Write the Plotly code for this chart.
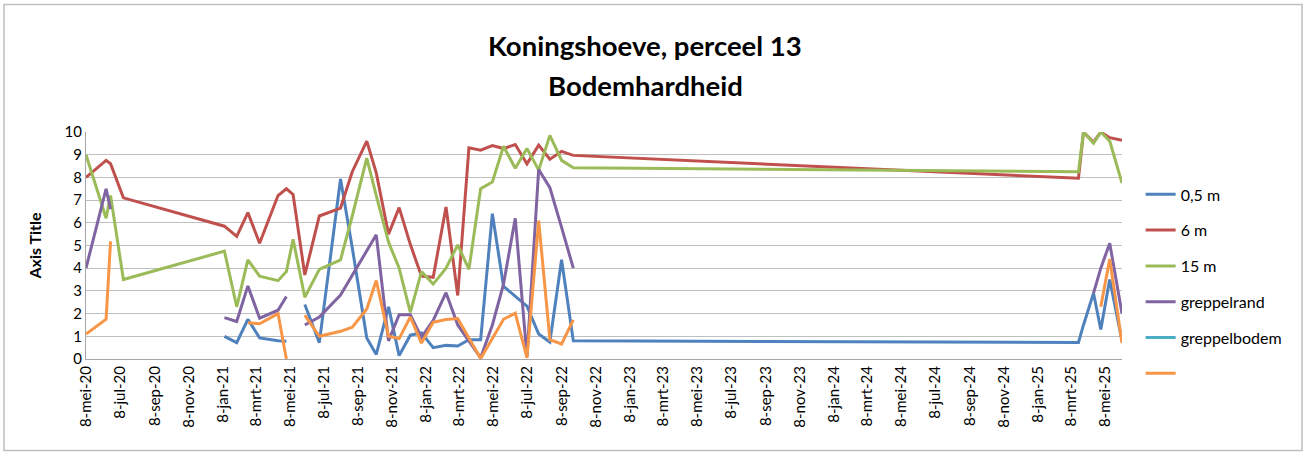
import datetime as dt
import plotly.graph_objects as go

# Measurement dates (shared by all series; None = no measurement)
dates = [
    "2020-05-08", "2020-06-13", "2020-06-21", "2020-07-14",
    "2021-01-11", "2021-02-02", "2021-02-22", "2021-03-15", "2021-04-17",
    "2021-05-02", "2021-05-14", "2021-06-04", "2021-06-30", "2021-08-07",
    "2021-08-28", "2021-09-23", "2021-10-10", "2021-11-01", "2021-11-20",
    "2021-12-10", "2021-12-30", "2022-01-20", "2022-02-12", "2022-03-05",
    "2022-03-25", "2022-04-15", "2022-05-06", "2022-05-26", "2022-06-16",
    "2022-07-07", "2022-07-28", "2022-08-17", "2022-09-07", "2022-09-28",
    "2025-03-21", "2025-03-30", "2025-04-17", "2025-04-30", "2025-05-16",
    "2025-06-07",
]

hardheid_05m = [
    None, None, None, None,
    1.0, 0.72, 1.75, 0.93, 0.8,
    0.78, None, 2.4, 0.72, 7.93,
    4.9, 0.93, 0.2, 2.3, 0.15,
    1.05, 1.15, 0.5, 0.6, 0.57,
    0.85, 0.85, 6.4, 3.2, 2.75,
    2.33, 1.1, 0.75, 4.37, 0.8,
    0.73, 1.5, 2.9, 1.3, 3.5,
    0.8,
]

hardheid_6m = [
    8.0, 8.75, 8.6, 7.1,
    5.85, 5.4, 6.45, 5.1, 7.2,
    7.5, 7.25, 3.7, 6.3, 6.65,
    8.25, 9.6, 8.2, 5.5, 6.67,
    5.05, 3.65, 3.6, 6.7, 2.8,
    9.3, 9.2, 9.4, 9.27, 9.45,
    8.6, 9.42, 8.8, 9.15, 8.97,
    7.96, 10.0, 9.55, 10.0, 9.75,
    9.63,
]

hardheid_15m = [
    9.0, 6.2, 7.2, 3.5,
    4.75, 2.3, 4.37, 3.65, 3.45,
    3.85, 5.27, 2.72, 3.95, 4.37,
    6.3, 8.85, 7.2, 5.15, 4.0,
    2.05, 3.85, 3.3, 4.0, 5.03,
    3.95, 7.5, 7.8, 9.37, 8.4,
    9.27, 8.32, 9.85, 8.75, 8.42,
    8.25, 10.0, 9.5, 10.0, 9.6,
    7.75,
]

hardheid_greppelrand = [
    4.0, 7.5, 6.6, None,
    1.82, 1.65, 3.22, 1.8, 2.15,
    2.75, None, 1.5, 1.85, 2.82,
    3.7, 4.8, 5.47, 0.8, 1.95,
    1.95, 0.95, 1.7, 2.92, 1.5,
    0.8, 0.05, 1.5, 3.3, 6.2,
    0.1, 8.35, 7.55, 5.8, 4.0,
    None, None, 2.9, 4.0, 5.1,
    2.0,
]

hardheid_greppelbodem = [None] * len(dates)

hardheid_overig = [
    1.1, 1.75, 5.18, None,
    None, None, 1.6, 1.55, 2.0,
    0.0, None, 1.93, 1.0, 1.22,
    1.4, 2.2, 3.46, 1.0, 0.9,
    1.85, 0.7, 1.62, 1.74, 1.78,
    0.9, 0.02, 0.9, 1.75, 2.02,
    0.05, 6.1, 0.85, 0.66, 1.72,
    None, None, None, 2.3, 4.4,
    0.7,
]

series_names = ["0,5 m", "6 m", "15 m", "greppelrand", "greppelbodem", ""]
series_values = [hardheid_05m, hardheid_6m, hardheid_15m,
                 hardheid_greppelrand, hardheid_greppelbodem, hardheid_overig]
series_colors = ["#4F81BD", "#C0504D", "#9BBB59", "#8064A2", "#4BACC6", "#F79646"]

# Dutch month abbreviations for the date axis
month_abbr = ["jan", "feb", "mrt", "apr", "mei", "jun",
              "jul", "aug", "sep", "okt", "nov", "dec"]
y_ticks = list(range(0, 11))

tick_vals, tick_text = [], []
for i in range(31):
    m = 4 + 2 * i
    year, month = 2020 + m // 12, m % 12 + 1
    tick_vals.append(dt.date(year, month, 8).isoformat())
    tick_text.append(f"8-{month_abbr[month - 1]}-{year % 100:02d}")

FONT = "Lato, 'Open Sans', sans-serif"

fig = go.Figure()
for k, (name, vals, col) in enumerate(zip(series_names, series_values, series_colors)):
    fig.add_trace(go.Scatter(
        x=dates, y=vals, name=name if name else " ",
        mode="lines", line=dict(color=col, width=3),
        connectgaps=False, legendgroup=f"g{k}",
    ))

fig.update_layout(
    width=1307, height=455,
    margin=dict(l=86, r=185, t=131.5, b=95.5),
    paper_bgcolor="white", plot_bgcolor="white",
    font=dict(family=FONT, color="#000000", size=15),
    showlegend=True,
    legend=dict(
        x=1.018, y=0.80, xanchor="left", yanchor="top",
        font=dict(family=FONT, size=16, color="#000000"),
        tracegroupgap=12, bgcolor="rgba(0,0,0,0)",
    ),
    xaxis=dict(
        type="date",
        range=["2020-05-08", "2025-06-07"],
        tickmode="array", tickvals=tick_vals, ticktext=tick_text,
        tickangle=-90, tickfont=dict(family=FONT, size=15),
        showgrid=False, showline=True, linecolor="#A6A6A6", linewidth=1,
        ticks="", zeroline=False,
    ),
    yaxis=dict(
        range=[0, 10], tickmode="array", tickvals=y_ticks,
        tickfont=dict(family=FONT, size=15),
        showgrid=True, gridcolor="#BFBFBF", gridwidth=1,
        showline=True, linecolor="#A6A6A6", linewidth=1,
        zeroline=False, ticks="", ticklen=0,
        title=dict(text="<b>Axis Title</b>", font=dict(family=FONT, size=16), standoff=18),
    ),
)

# Two-line chart title
fig.add_annotation(text="<b>Koningshoeve, perceel 13</b>", xref="paper", yref="paper",
                   x=0.540, y=1.379, xanchor="center", yanchor="middle",
                   showarrow=False, font=dict(family=FONT, size=27.5, color="#000000"))
fig.add_annotation(text="<b>Bodemhardheid</b>", xref="paper", yref="paper",
                   x=0.540, y=1.204, xanchor="center", yanchor="middle",
                   showarrow=False, font=dict(family=FONT, size=27.5, color="#000000"))

# Chart-area border
fig.add_shape(type="rect", xref="paper", yref="paper",
              x0=-82 / 1036, x1=1216 / 1036, y0=-92 / 228, y1=356 / 228,
              line=dict(color="#BFBFBF", width=1.5), fillcolor="rgba(0,0,0,0)")

fig.write_html("out.html")
